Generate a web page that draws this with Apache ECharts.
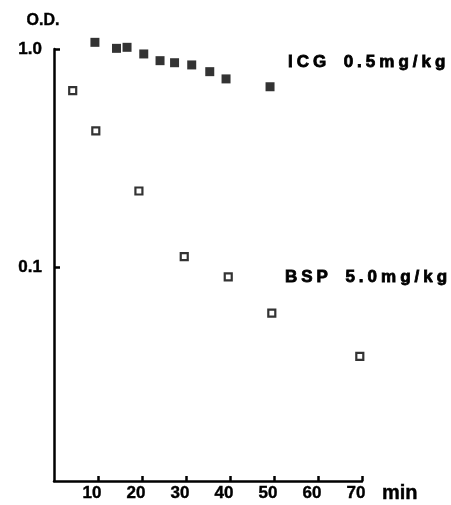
<!DOCTYPE html>
<html><head><meta charset="utf-8">
<script src="https://cdn.jsdelivr.net/npm/echarts@6/dist/echarts.min.js"></script>
<style>html,body{margin:0;padding:0;background:#fff}#c{width:451px;height:505px}</style>
</head><body><div id="c"></div>
<script>
// Time (min) and optical density values
const icgTime = [9.3, 14.2, 16.6, 20.4, 24.1, 27.4, 31.3, 35.4, 39.1, 49.1];
const icgOD   = [1.073, 1.007, 1.018, 0.949, 0.884, 0.865, 0.845, 0.787, 0.729, 0.671];
const bspTime = [4.25, 9.5, 19.3, 29.6, 39.6, 49.5, 69.5];
const bspOD   = [0.644, 0.421, 0.223, 0.1115, 0.090, 0.0613, 0.0388];
const xTicks = [10, 20, 30, 40, 50, 60, 70];
const yTickLabels = {'0.1': '0.1', '1': '1.0'};
const icgLabel = 'ICG 0.5mg/kg';
const bspLabel = 'BSP 5.0mg/kg';

// letter-spaced rendering of an annotation string (one rich-text element)
function spaced(s) {
  return s.split('').map(ch => '{c|' + (ch === ' ' ? '\u00a0\u00a0' : ch) + '}').join('');
}
const richStyle = {c: {fontFamily: '"Liberation Sans", Arial, sans-serif', fontWeight: 'bold', fontSize: 17,
  fill: '#000', stroke: '#000', lineWidth: 0.8, padding: [0, 2.0, 0, 2.0]}};

const chart = echarts.init(document.getElementById('c'), null, {renderer: 'canvas'});
const lab = {fontFamily: '"Liberation Sans", Arial, sans-serif', fontWeight: 'bold', fontSize: 17, color: '#000',
  textBorderColor: '#000', textBorderWidth: 0.4};
chart.setOption({
  animation: false,
  backgroundColor: '#fff',
  grid: {left: 54, right: 89, top: 49, bottom: 24, containLabel: false},
  xAxis: {
    type: 'value', min: 0, max: 70, interval: 10,
    name: 'min', nameLocation: 'end', nameGap: 20,
    nameTextStyle: Object.assign({}, lab, {fontSize: 20, verticalAlign: 'top', align: 'left', padding: [2, 0, 0, 0]}),
    axisLine: {show: true, onZero: false, lineStyle: {color: '#000', width: 2.5}},
    axisTick: {show: true, inside: true, length: 5, lineStyle: {color: '#000', width: 2.5},
      customValues: xTicks},
    axisLabel: Object.assign({}, lab, {margin: 4, padding: [0, 12, 0, 0],
      customValues: xTicks, formatter: v => String(v)}),
    splitLine: {show: false}
  },
  yAxis: {
    type: 'log', logBase: 10, min: 0.0104, max: 1,
    name: 'O.D.', nameLocation: 'end', nameGap: 20,
    nameTextStyle: Object.assign({}, lab, {fontSize: 16, padding: [0, 22, 0, 0]}),
    axisLine: {show: true, onZero: false, lineStyle: {color: '#000', width: 2.5}},
    axisTick: {show: true, inside: true, length: 6, lineStyle: {color: '#000', width: 2.5},
      customValues: [0.1, 1]},
    axisLabel: Object.assign({}, lab, {margin: 12, customValues: [0.1, 1],
      formatter: v => {
        if (Math.abs(v - 1) < 1e-6) return yTickLabels['1'];
        if (Math.abs(v - 0.1) < 1e-6) return yTickLabels['0.1'];
        return '';
      }}),
    splitLine: {show: false}
  },
  graphic: [
    {type: 'text', x: 286, y: 62,
     style: {text: spaced(icgLabel), rich: richStyle, verticalAlign: 'middle', align: 'left'}},
    {type: 'text', x: 283, y: 277,
     style: {text: spaced(bspLabel), rich: richStyle, verticalAlign: 'middle', align: 'left'}}
  ],
  series: [
    {type: 'scatter', name: 'ICG', clip: false, symbol: 'rect', symbolSize: 9,
     itemStyle: {color: '#000'},
     data: icgTime.map((t, i) => [t, icgOD[i]])},
    {type: 'scatter', name: 'BSP', clip: false, symbol: 'rect', symbolSize: 7,
     itemStyle: {color: '#fff', borderColor: '#000', borderWidth: 2.2},
     data: bspTime.map((t, i) => [t, bspOD[i]])}
  ]
});
</script></body></html>
